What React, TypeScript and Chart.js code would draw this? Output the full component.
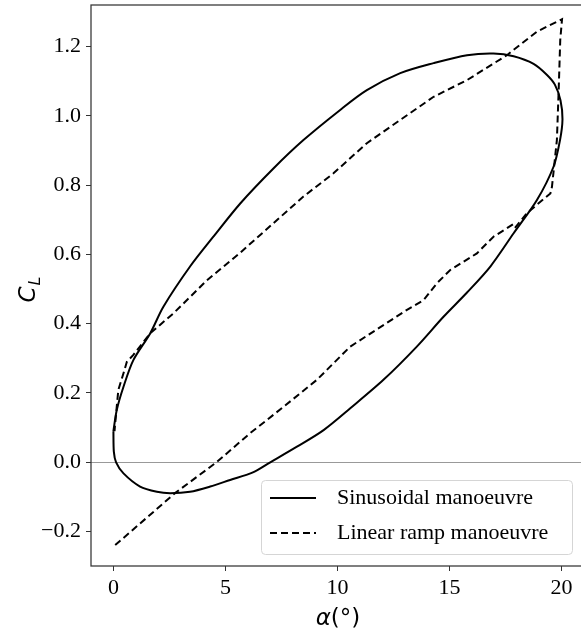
import { useEffect, useRef } from "react";
import { Chart, registerables } from "chart.js";

Chart.register(...registerables);

const sinAlpha = [
  0.0, 0.02, 0.12, 0.45, 1.19, 1.94, 2.53, 3.42, 4.32, 5.21, 6.2, 7.0, 8.19, 9.38, 10.57, 12.05,
  13.54, 14.73, 15.78, 16.82, 17.86, 18.9, 19.64, 19.93, 20.04, 19.95, 19.7, 19.35, 18.75, 17.86,
  16.96, 15.78, 14.29, 12.8, 11.31, 10.12, 8.48, 7.14, 5.66, 4.46, 3.42, 2.23, 1.64, 0.89, 0.45,
  0.15, 0.0,
];
const sinCL = [
  0.09, 0.03, 0.0, -0.032, -0.07, -0.085, -0.089, -0.085, -0.07, -0.051, -0.03, 0.0, 0.045, 0.093,
  0.156, 0.238, 0.334, 0.42, 0.49, 0.565, 0.661, 0.757, 0.853, 0.93, 0.99, 1.045, 1.09, 1.118, 1.15,
  1.172, 1.18, 1.175, 1.152, 1.123, 1.074, 1.017, 0.93, 0.848, 0.747, 0.651, 0.565, 0.449, 0.372,
  0.295, 0.218, 0.151, 0.09,
];

const rampAlpha = [
  0.08, 2.75, 4.6, 6.1, 7.59, 9.08, 10.57, 12.05, 13.1, 13.84, 14.44, 15.03, 16.22, 16.96, 17.79,
  17.9, 18.45, 19.5, 19.57, 19.79, 19.87, 19.94, 20.02, 18.9, 17.56, 15.78, 14.29, 12.8, 11.31, 9.82,
  8.48, 7.14, 5.66, 4.17, 2.68, 1.64, 0.89, 0.6, 0.45, 0.22, 0.08, 0.05,
];
const rampCL = [
  -0.239, -0.089, 0.0, 0.084, 0.16, 0.238, 0.334, 0.396, 0.44, 0.468, 0.517, 0.555, 0.603, 0.651,
  0.685, 0.675, 0.719, 0.776, 0.795, 0.93, 1.075, 1.219, 1.279, 1.243, 1.175, 1.103, 1.055, 0.988,
  0.921, 0.834, 0.767, 0.69, 0.605, 0.525, 0.43, 0.372, 0.31, 0.29, 0.257, 0.209, 0.113, 0.09,
];

const xTicks = [0, 5, 10, 15, 20];
const yTicks = [-0.2, 0.0, 0.2, 0.4, 0.6, 0.8, 1.0, 1.2];
const seriesLabels = ["Sinusoidal manoeuvre", "Linear ramp manoeuvre"];
const xTitleSymbol = "α";
const xTitleRest = "(°)";
const yTitleMain = "C";
const yTitleSub = "L";

const SERIF = "'Liberation Serif', 'Times New Roman', serif";
const SANS = "'DejaVu Sans', sans-serif";

export default function App() {
  const ref = useRef<HTMLCanvasElement>(null);

  useEffect(() => {
    const canvas = ref.current!;
    const overlay = {
      id: "overlay",
      afterDraw(chart: any) {
        const ctx = chart.ctx as CanvasRenderingContext2D;
        const a = chart.chartArea;
        ctx.save();
        // spines
        ctx.strokeStyle = "#333";
        ctx.lineWidth = 1.25;
        ctx.strokeRect(a.left, a.top, a.right - a.left, a.bottom - a.top);

        // legend
        const lx = 261.5, ly = 480.5, lw = 311, lh = 74;
        ctx.beginPath();
        ctx.roundRect(lx, ly, lw, lh, 4);
        ctx.fillStyle = "rgba(255,255,255,0.85)";
        ctx.fill();
        ctx.strokeStyle = "#d5d5d5";
        ctx.lineWidth = 1;
        ctx.stroke();
        const rows = [498, 533];
        chart.data.datasets.forEach((ds: any, i: number) => {
          ctx.beginPath();
          ctx.setLineDash(ds.borderDash || []);
          ctx.strokeStyle = ds.borderColor;
          ctx.lineWidth = ds.borderWidth;
          ctx.moveTo(270, rows[i]);
          ctx.lineTo(316, rows[i]);
          ctx.stroke();
          ctx.setLineDash([]);
          ctx.fillStyle = "#000";
          ctx.font = `22px ${SERIF}`;
          ctx.textBaseline = "middle";
          ctx.textAlign = "left";
          ctx.fillText(ds.label, 337, rows[i]);
        });

        // x title
        ctx.fillStyle = "#000";
        ctx.textBaseline = "alphabetic";
        ctx.font = `italic 23px ${SANS}`;
        const w1 = ctx.measureText(xTitleSymbol).width;
        ctx.font = `23px ${SANS}`;
        const w2 = ctx.measureText(xTitleRest).width;
        const xs = 338 - (w1 + w2) / 2;
        const xb = 625;
        ctx.font = `italic 23px ${SANS}`;
        ctx.fillText(xTitleSymbol, xs, xb);
        ctx.font = `23px ${SANS}`;
        ctx.fillText(xTitleRest, xs + w1, xb);

        // y title
        ctx.translate(35, 290);
        ctx.rotate(-Math.PI / 2);
        ctx.font = `italic 23px ${SANS}`;
        const c1 = ctx.measureText(yTitleMain).width;
        ctx.font = `italic 16px ${SANS}`;
        const c2 = ctx.measureText(yTitleSub).width;
        const ys = -(c1 + c2) / 2;
        ctx.font = `italic 23px ${SANS}`;
        ctx.fillText(yTitleMain, ys, 0);
        ctx.font = `italic 16px ${SANS}`;
        ctx.fillText(yTitleSub, ys + c1 + 1, 5);
        ctx.restore();
      },
    };

    const chart = new Chart(canvas, {
      type: "scatter",
      data: {
        datasets: [
          {
            label: seriesLabels[0],
            data: sinAlpha.map((x, i) => ({ x, y: sinCL[i] })),
            showLine: true,
            borderColor: "#000",
            borderWidth: 2,
            pointRadius: 0,
            tension: 0.3,
            fill: false,
          },
          {
            label: seriesLabels[1],
            data: rampAlpha.map((x, i) => ({ x, y: rampCL[i] })),
            showLine: true,
            borderColor: "#000",
            borderWidth: 2,
            borderDash: [7, 4],
            pointRadius: 0,
            tension: 0,
            fill: false,
          },
        ],
      },
      options: {
        responsive: false,
        animation: false,
        devicePixelRatio: 1,
        layout: { padding: { top: 5, right: 16, left: 0, bottom: 0 } },
        plugins: { legend: { display: false }, tooltip: { enabled: false } },
        scales: {
          x: {
            type: "linear",
            min: -1,
            max: 21,
            afterFit(s: any) {
              s.height = 65;
              s.paddingLeft = 0;
              s.paddingRight = 0;
            },
            afterBuildTicks(s: any) {
              s.ticks = xTicks.map((v) => ({ value: v }));
            },
            ticks: {
              color: "#000",
              font: { family: SERIF, size: 22 },
              padding: 4,
              maxRotation: 0,
              callback: (v: any) => String(v),
            },
            grid: { drawOnChartArea: false, tickLength: 5, tickColor: "#333", tickWidth: 1 },
            border: { display: false },
          },
          y: {
            type: "linear",
            min: -0.2993,
            max: 1.3198,
            afterFit(s: any) {
              s.width = 91;
              s.paddingTop = 0;
              s.paddingBottom = 0;
            },
            afterBuildTicks(s: any) {
              s.ticks = yTicks.map((v) => ({ value: v }));
            },
            ticks: {
              color: "#000",
              font: { family: SERIF, size: 22 },
              padding: 5,
              callback: (v: any) => (v < -1e-9 ? "\u2212" + Math.abs(v).toFixed(1) : Math.abs(v).toFixed(1)),
            },
            grid: {
              drawOnChartArea: true,
              color: (c: any) => (c.tick && Math.abs(c.tick.value) < 1e-9 ? "#999" : "rgba(0,0,0,0)"),
              lineWidth: 1,
              tickLength: 5,
              tickColor: "#333",
              tickWidth: 1,
            },
            border: { display: false },
          },
        },
      },
      plugins: [overlay],
    });
    return () => chart.destroy();
  }, []);

  return (
    <div
      style={{
        position: "absolute",
        left: 0,
        top: 0,
        width: 581,
        height: 631,
        overflow: "hidden",
        background: "#fff",
      }}
    >
      <canvas ref={ref} width={600} height={631} style={{ display: "block" }} />
    </div>
  );
}
